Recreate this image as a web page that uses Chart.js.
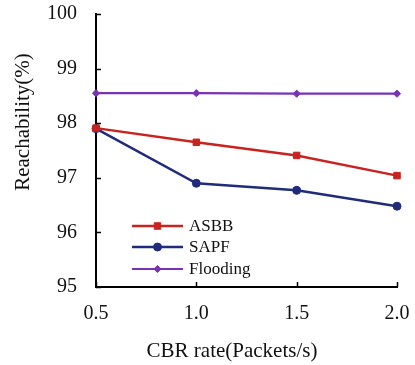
<!DOCTYPE html>
<html>
<head>
<meta charset="utf-8">
<script src="https://cdn.jsdelivr.net/npm/chart.js@4.4.1/dist/chart.umd.min.js"></script>
<style>
html,body{margin:0;padding:0;background:#fff;}
#wrap{width:415px;height:365px;position:relative;}
</style>
</head>
<body>
<div id="wrap"><canvas id="c" width="415" height="365"></canvas></div>
<script>
const rates = [0.5, 1.0, 1.5, 2.0];
const asbb = [97.91, 97.65, 97.41, 97.04];
const sapf = [97.90, 96.90, 96.77, 96.48];
const flooding = [98.55, 98.55, 98.54, 98.54];
const seriesNames = ['ASBB', 'SAPF', 'Flooding'];
const yTicks = [95, 96, 97, 98, 99, 100];
const xTitle = 'CBR rate(Packets/s)';
const yTitle = 'Reachability(%)';

const FONT = '"Liberation Serif", "Times New Roman", serif';
const colors = ['#c8231e', '#202c7a', '#7a32b4'];
const widths = [2.5, 2.5, 2.2];
const shapes = ['rect', 'circle', 'rectRot'];
const radii = [4.6, 4, 3.6];

function pts(vals){ return rates.map((r,i)=>({x:r, y:vals[i]})); }

const dsVals = [asbb, sapf, flooding];
const datasets = seriesNames.map((n,i)=>({
  label: n,
  data: pts(dsVals[i]),
  borderColor: colors[i],
  backgroundColor: colors[i],
  borderWidth: widths[i],
  pointStyle: shapes[i],
  pointRadius: radii[i],
  pointBorderWidth: 1,
  tension: 0,
  clip: false
}));

function marker(ctx, shape, x, y, r, color){
  ctx.save();
  ctx.fillStyle = color; ctx.strokeStyle = color; ctx.lineWidth = 1;
  ctx.beginPath();
  if (shape === 'rect') {
    const s = r * Math.SQRT1_2;
    ctx.rect(x - s, y - s, 2*s, 2*s);
  } else if (shape === 'circle') {
    ctx.arc(x, y, r, 0, Math.PI*2);
  } else {
    ctx.moveTo(x - r, y); ctx.lineTo(x, y - r); ctx.lineTo(x + r, y); ctx.lineTo(x, y + r); ctx.closePath();
  }
  ctx.fill(); ctx.stroke();
  ctx.restore();
}

const decor = {
  id: 'decor',
  afterDraw(chart){
    const ctx = chart.ctx;
    const xs = chart.scales.x, ys = chart.scales.y;
    const ca = chart.chartArea;
    ctx.save();
    ctx.strokeStyle = '#000'; ctx.lineWidth = 1.5;
    yTicks.forEach(v=>{
      const py = Math.round(ys.getPixelForValue(v)) + 0.5;
      ctx.beginPath(); ctx.moveTo(ca.left, py); ctx.lineTo(ca.left + 5, py); ctx.stroke();
    });
    rates.forEach(v=>{
      const px = Math.round(xs.getPixelForValue(v)) + 0.5;
      ctx.beginPath(); ctx.moveTo(px, ca.bottom); ctx.lineTo(px, ca.bottom - 5); ctx.stroke();
    });
    ctx.fillStyle = '#111';
    ctx.font = '21px ' + FONT;
    ctx.textAlign = 'center'; ctx.textBaseline = 'middle';
    ctx.fillText(xTitle, 232, 351);
    ctx.save();
    ctx.translate(23, 122);
    ctx.rotate(-Math.PI/2);
    ctx.fillText(yTitle, 0, 0);
    ctx.restore();
    const rows = [226, 247, 269];
    ctx.font = '17px ' + FONT;
    ctx.textAlign = 'left';
    seriesNames.forEach((n,i)=>{
      const y = rows[i];
      ctx.strokeStyle = colors[i]; ctx.lineWidth = widths[i];
      ctx.beginPath(); ctx.moveTo(132, y); ctx.lineTo(183, y); ctx.stroke();
      marker(ctx, shapes[i], 157.5, y, radii[i], colors[i]);
      ctx.fillStyle = '#111';
      ctx.fillText(n, 189, y + 1);
    });
    ctx.restore();
  }
};

new Chart(document.getElementById('c'), {
  type: 'line',
  data: { datasets },
  options: {
    responsive: false,
    animation: false,
    devicePixelRatio: 1,
    layout: { padding: { top: 14, right: 18, left: 0, bottom: 0 } },
    plugins: { legend: { display: false }, tooltip: { enabled: false } },
    scales: {
      x: {
        type: 'linear', min: 0.5, max: 2.0,
        afterFit(s){ s.height = 78; s.paddingLeft = 0; s.paddingRight = 0; },
        afterBuildTicks(s){ s.ticks = rates.map(v=>({value:v})); },
        ticks: { color: '#111', font: { family: FONT, size: 20 }, padding: 15,
                 callback: v => Number(v).toFixed(1) },
        grid: { drawOnChartArea: false, drawTicks: false },
        border: { display: true, color: '#000', width: 2 }
      },
      y: {
        min: 95, max: 100,
        afterFit(s){ s.width = 96; s.paddingTop = 0; s.paddingBottom = 0; },
        afterBuildTicks(s){ s.ticks = yTicks.map(v=>({value:v})); },
        ticks: { color: '#111', font: { family: FONT, size: 20 }, padding: 19 },
        grid: { drawOnChartArea: false, drawTicks: false },
        border: { display: true, color: '#000', width: 2 }
      }
    }
  },
  plugins: [decor]
});
</script>
</body>
</html>
